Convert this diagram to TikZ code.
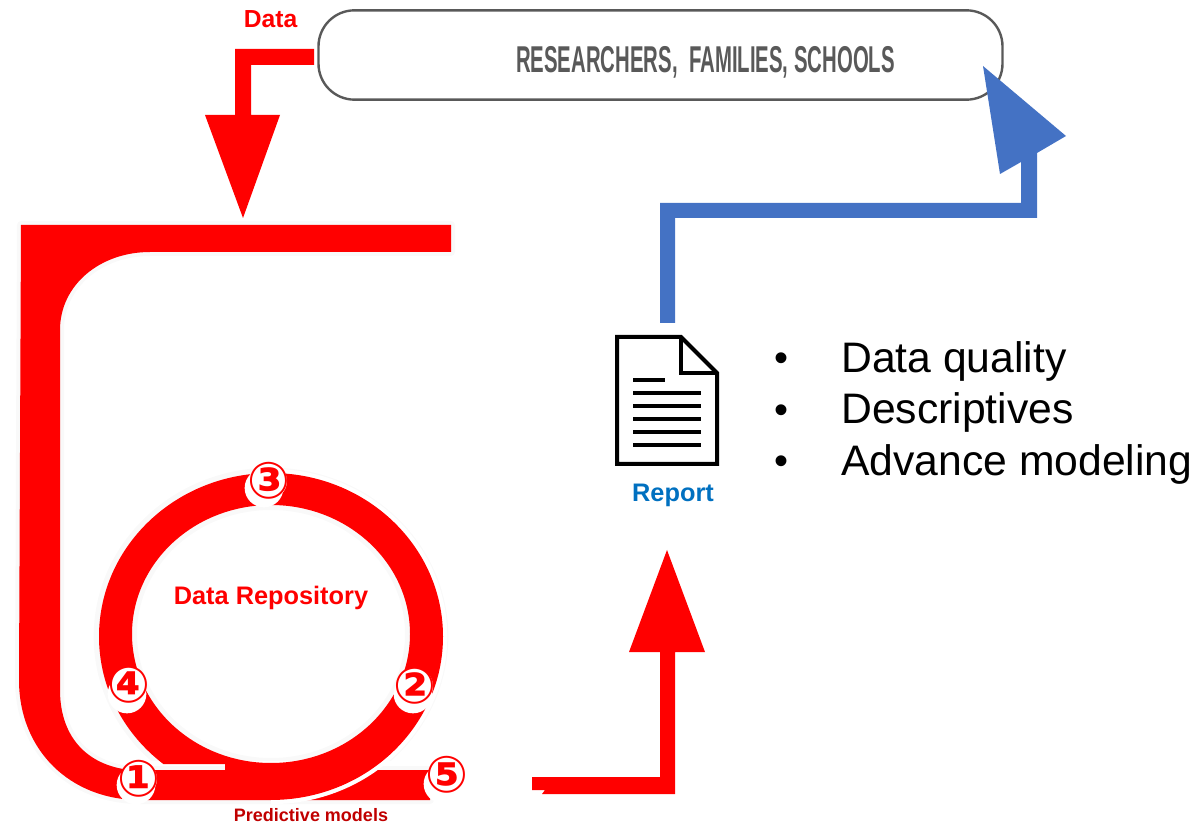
\documentclass[tikz,border=0pt]{standalone}
\usepackage{fontspec}
\setmainfont{Liberation Sans}
\newfontfamily\condfont[FakeStretch=0.545]{Liberation Sans}
\newfontfamily\circfont{DejaVu Sans}
\definecolor{repred}{HTML}{FF0000}
\definecolor{repblue}{HTML}{4472C4}
\definecolor{repgrey}{HTML}{595959}
\definecolor{repglow}{HTML}{F9F9F9}
\definecolor{reportblue}{HTML}{0070C0}
\definecolor{darkred}{HTML}{C00000}
\tikzset{
  x=0.75pt,y=-0.75pt,
  blockred/.style={fill=repred,draw=none},
  blockblue/.style={fill=repblue,draw=none},
  doc/.style={draw=black,line width=3pt,fill=white,line join=miter},
  docline/.style={draw=black,line width=2.6pt},
  redlabel/.style={text=repred,font=\bfseries\fontsize{19}{22}\selectfont,inner sep=0pt},
  numdisc/.style={circle,fill=white,draw=none,minimum size=29pt,inner sep=0pt},
  nummark/.style={text=repred,inner sep=0pt,font=\circfont\bfseries\fontsize{38}{38}\selectfont},
  bullettext/.style={anchor=base west,inner sep=0pt,font=\fontsize{32}{36}\selectfont,text=black},
  bulletmark/.style={anchor=base west,inner sep=0pt,font=\fontsize{30}{33}\selectfont,text=black},
}
\begin{document}
\begin{tikzpicture}
\useasboundingbox (0,0) rectangle (1197,823);
% rounded box
\node[draw=repgrey,line width=1.8pt,rounded corners=27pt,minimum width=513pt,minimum height=67pt,inner sep=0pt] (box) at (660.5,55) {};
\node[text=repgrey,inner sep=0pt,font=\condfont\bfseries\fontsize{28}{30}\selectfont] (boxt) at (705.5,62.5) {RESEARCHERS,\ \ FAMILIES, SCHOOLS};
% data arrow
\fill[blockred] (314,49) -- (235,49) -- (235,115) -- (205,115) -- (243,218) -- (280,115) -- (251,115) -- (251,65) -- (314,65) -- cycle;
\node[text=repred,inner sep=0pt,font=\bfseries\fontsize{18.5}{20}\selectfont] (datal) at (270.5,19) {Data};
% big L band
\path[draw=repglow,line width=6pt,line join=round] (21,225) -- (451,225) -- (451,252) -- (150,252)
  .. controls (100,252) and (60,285) .. (60,330) -- (60,690)
  .. controls (60,735) and (85,765) .. (130,770) -- (430,770) -- (430,800) -- (140,800)
  .. controls (70,800) and (19,750) .. (19,680) -- cycle;
\fill[blockred] (21,225) -- (451,225) -- (451,252) -- (150,252)
  .. controls (100,252) and (60,285) .. (60,330) -- (60,690)
  .. controls (60,735) and (85,765) .. (130,770) -- (430,770) -- (430,800) -- (140,800)
  .. controls (70,800) and (19,750) .. (19,680) -- cycle;
% ring
\begin{scope}
  \clip (0,0) rectangle (1197,760);
  \draw[repglow,line width=4pt] (271,636.5) ellipse [x radius=131pt,y radius=124.6pt];
  \draw[repglow,line width=4pt] (271,634) ellipse [x radius=102.5pt,y radius=95pt];
\end{scope}
\begin{scope}
  \clip (271,0) rectangle (1197,823);
  \draw[white,line width=3.5pt] (271,636.5) ellipse [x radius=130.5pt,y radius=124pt];
\end{scope}
\begin{scope}
  \clip (0,0) -- (1197,0) -- (1197,823) -- (225,823) -- (225,764) -- (0,764) -- cycle;
  \fill[repred,even odd rule] (271,636.5) ellipse [x radius=129pt,y radius=122.6pt]
     (271,634) ellipse [x radius=104.25pt,y radius=96.75pt];
\end{scope}
\node[redlabel] (repo) at (271,598) {Data Repository};
\node[text=darkred,inner sep=0pt,font=\bfseries\fontsize{13.5}{16}\selectfont] (pred) at (311,815) {Predictive models};
% numbered marks
\node[numdisc] (d3) at (264,488) {};
\node[numdisc] (d4) at (127,694) {};
\node[numdisc] (d2) at (413,694) {};
\node[numdisc] (d1) at (136,785) {};
\node[numdisc] (d5) at (443,784) {};
\node[numdisc,minimum size=27pt] at (269,481) {};
\node[numdisc,minimum size=27pt] at (129,685) {};
\node[numdisc,minimum size=27pt] at (415,686) {};
\node[numdisc,minimum size=27pt] at (139,779) {};
\node[numdisc,minimum size=27pt] at (447,775) {};
\node[nummark] (n3) at (269,481) {③};
\node[nummark] (n4) at (129,685) {④};
\node[nummark] (n2) at (415,686) {②};
\node[nummark] (n1) at (139,779) {①};
\node[nummark] (n5) at (447,775) {⑤};
% red arrow to report
\fill[blockred] (532,777) -- (532,790) -- (545,790) -- (542,794) -- (675,794) -- (675,652) -- (705,652) -- (667,550) -- (629,652) -- (660,652) -- (660,777) -- cycle;
% blue arrow
\fill[blockblue] (660,323) -- (660,203) -- (1021,203) -- (1021,162) -- (1000,174) -- (983,66) -- (1066,136) -- (1037,153) -- (1037,218) -- (675,218) -- (675,323) -- cycle;
% document icon
\draw[doc] (617,337) -- (681,337) -- (717,373) -- (717,464) -- (617,464) -- cycle;
\draw[doc,fill=none] (681,337) -- (681,373) -- (717,373);
\draw[docline] (633,380) -- (665,380);
\draw[docline] (633,393) -- (701,393);
\draw[docline] (633,406) -- (701,406);
\draw[docline] (633,419) -- (701,419);
\draw[docline] (633,432) -- (701,432);
\draw[docline] (633,445) -- (701,445);
\node[text=reportblue,inner sep=0pt,font=\bfseries\fontsize{19}{22}\selectfont] (report) at (673,495.5) {Report};
% list
\node[bulletmark] (b1) at (774,372) {•};
\node[bulletmark] (b2) at (774,423.5) {•};
\node[bulletmark] (b3) at (774,475) {•};
\node[bullettext] (l1) at (841,373) {Data quality};
\node[bullettext] (l2) at (841,424) {Descriptives};
\node[bullettext] (l3) at (841,476) {Advance modeling};
\end{tikzpicture}
\end{document}
